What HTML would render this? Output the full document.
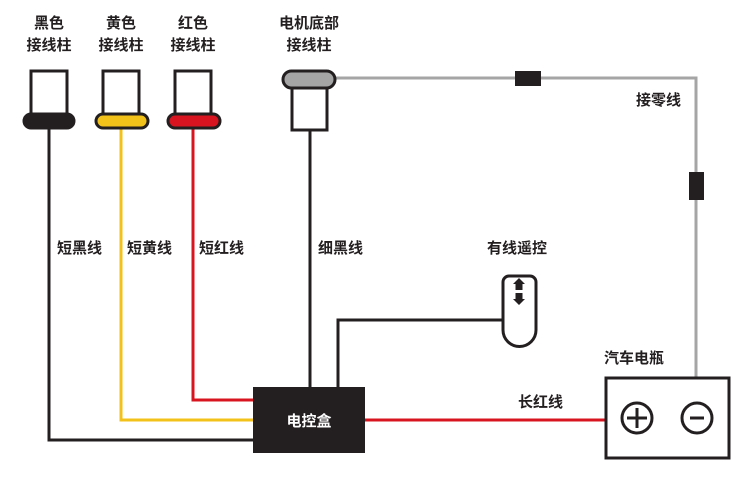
<!DOCTYPE html>
<html><head><meta charset="utf-8"><style>
body{margin:0;background:#fff;}
text{font-family:"Liberation Sans","Noto Sans CJK SC",sans-serif;font-weight:bold;font-size:15px;fill:#231f20;}
</style></head><body>
<svg width="750" height="484" viewBox="0 0 750 484" xmlns="http://www.w3.org/2000/svg">
<g fill="none" stroke-width="3">
<polyline points="49,128 49,440 253,440" stroke="#231f20"/>
<polyline points="121,128 121,420 253,420" stroke="#f2c21b"/>
<polyline points="193,128 193,400 253,400" stroke="#d7141f"/>
<line x1="310" y1="130" x2="310" y2="388" stroke="#231f20"/>
<polyline points="338,388 338,320 503,320" stroke="#231f20"/>
<line x1="365" y1="420" x2="606" y2="420" stroke="#d7141f"/>
<polyline points="335,78 696,78 696,377" stroke="#a5a5a5"/>
</g>
<rect x="515" y="71" width="26" height="15" fill="#231f20"/>
<rect x="689" y="172" width="15" height="28" fill="#231f20"/>
<g stroke="#231f20" stroke-width="3">
<rect x="31" y="71" width="36" height="44" fill="#fff"/>
<rect x="24" y="114" width="50" height="14" rx="7" fill="#231f20"/>
<rect x="103" y="71" width="36" height="44" fill="#fff"/>
<rect x="96" y="114" width="52" height="14" rx="7" fill="#f2c21b"/>
<rect x="175" y="71" width="36" height="44" fill="#fff"/>
<rect x="168" y="114" width="52" height="14" rx="7" fill="#d7141f"/>
<rect x="292" y="88" width="35" height="42" fill="#fff"/>
<rect x="283" y="71" width="52" height="17" rx="8.5" fill="#a5a5a5"/>
<path d="M503,282 a6,6 0 0 1 6,-6 h21 a6,6 0 0 1 6,6 v48 a16.5,16.5 0 0 1 -33,0 z" fill="#fff"/>
<rect x="606" y="378" width="123" height="80" fill="#fff"/>
<circle cx="637" cy="418" r="15" fill="none"/>
<circle cx="697" cy="418" r="15" fill="none"/>
<line x1="627" y1="418" x2="647" y2="418"/><line x1="637" y1="408" x2="637" y2="428"/>
<line x1="690" y1="418" x2="704" y2="418"/>
</g>
<path d="M519,278 l-6,6 h2.5 v6 h7 v-6 h2.5 z M515.5,293 h7 v6 h2.5 l-6,6 l-6,-6 h2.5 z" fill="#231f20"/>
<rect x="253" y="387" width="112" height="66" fill="#231f20"/>
<text x="309" y="426" text-anchor="middle" style="fill:#fff">电控盒</text>
<g text-anchor="middle">
<text x="49" y="28">黑色</text><text x="49" y="50">接线柱</text>
<text x="121" y="28">黄色</text><text x="121" y="50">接线柱</text>
<text x="193" y="28">红色</text><text x="193" y="50">接线柱</text>
<text x="309" y="28">电机底部</text><text x="309" y="50">接线柱</text>
</g>
<text x="57" y="253">短黑线</text>
<text x="127" y="253">短黄线</text>
<text x="199" y="253">短红线</text>
<text x="318" y="253">细黑线</text>
<text x="487" y="253">有线遥控</text>
<text x="636" y="105">接零线</text>
<text x="604" y="363">汽车电瓶</text>
<text x="518" y="407">长红线</text>
</svg>
</body></html>
